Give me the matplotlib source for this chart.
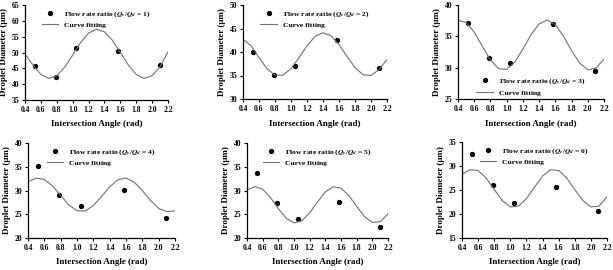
import numpy as np
import matplotlib
matplotlib.use('Agg')
import matplotlib.pyplot as plt

plt.rcParams['font.family'] = ['Liberation Serif', 'DejaVu Serif']
plt.rcParams['font.weight'] = 'bold'
plt.rcParams['mathtext.fontset'] = 'stix'

# angoli di intersezione misurati (rad)
angoli = [0.524, 0.785, 1.047, 1.571, 2.094]
# diametri misurati per ciascun rapporto di portata
d1 = [45.8, 42.3, 51.4, 50.5, 46.0]
d2 = [40.1, 35.1, 37.1, 42.6, 36.7]
d3 = [37.1, 31.5, 30.7, 36.9, 29.4]
d4 = [35.1, 29.1, 26.8, 30.1, 24.2]
d5 = [33.7, 27.4, 24.1, 27.5, 22.4]
d6 = [32.5, 26.1, 22.2, 25.7, 20.7]

# curva di fitting (passo 0.1 rad)
x_fit = [0.4, 0.5, 0.6, 0.7, 0.8, 0.9, 1.0, 1.1, 1.2, 1.3,
         1.4, 1.5, 1.6, 1.7, 1.8, 1.9, 2.0, 2.1, 2.2]
f1 = [49.4, 46.06, 43.06, 41.81, 42.65, 45.35, 49.19, 53.14, 56.14, 57.39,
      56.55, 53.85, 50.01, 46.06, 43.06, 41.81, 42.65, 45.5, 50.2]
f2 = [42.7, 41.33, 38.78, 36.46, 35.08, 35.08, 36.46, 38.78, 41.33, 43.30,
      44.10, 43.46, 41.59, 39.07, 36.68, 35.17, 35.01, 36.25, 38.40]
f3 = [37.56, 37.22, 35.67, 33.42, 31.24, 29.85, 29.71, 30.88, 32.95, 35.25,
      36.99, 37.60, 36.86, 35.04, 32.73, 30.71, 29.66, 29.93, 31.35]
f4 = [31.9, 32.59, 32.34, 30.97, 28.94, 26.97, 25.74, 25.68, 26.81, 28.73,
      30.78, 32.25, 32.63, 31.77, 29.99, 27.90, 26.22, 25.55, 25.7]
f5 = [30.10, 30.84, 30.27, 28.50, 26.18, 24.16, 23.18, 23.61, 25.28, 27.59,
      29.68, 30.78, 30.50, 28.93, 26.65, 24.50, 23.27, 23.41, 25.1]
f6 = [28.3, 29.23, 29.07, 27.49, 25.10, 22.80, 21.47, 21.63, 23.21, 25.60,
      27.90, 29.23, 29.07, 27.49, 25.10, 22.80, 21.47, 21.63, 23.6]

rapporti = [1, 2, 3, 4, 5, 6]
punti = [d1, d2, d3, d4, d5, d6]
curve = [f1, f2, f3, f4, f5, f6]
ylim = [(35, 65), (30, 50), (25, 40), (20, 40), (20, 40), (15, 35)]

# posizione dei pannelli in pixel: sinistra, destra, alto, basso
W, H = 613, 270
box = [(25, 168, 5, 100), (243, 387, 5, 99), (458, 604, 5, 99),
       (28, 175, 143, 238), (247, 388, 143, 238), (462, 607, 142, 238)]
legend_loc = ['upper center', 'upper center', 'lower center',
              'upper center', 'upper center', 'upper center']

fig = plt.figure(figsize=(W/100, H/100), dpi=100)

for i in range(6):
    l, r, t, b = box[i]
    ax = fig.add_axes([l/W, 1-b/H, (r-l)/W, (b-t)/H])
    ax.plot(angoli, punti[i], 'o', color='black', ms=2.8,
            label=r'Flow rate ratio ($Q_c$/$Q_d$ = %d)' % rapporti[i])
    ax.plot(x_fit, curve[i], '-', color='#707070', lw=0.8, label='Curve fitting')
    ax.set_xlim(0.4, 2.2)
    ax.set_ylim(*ylim[i])
    ax.set_xticks(np.arange(0.4, 2.21, 0.2))
    ax.set_yticks(np.arange(ylim[i][0], ylim[i][1]+0.1, 5))
    ax.xaxis.set_major_formatter(matplotlib.ticker.FormatStrFormatter('%.1f'))
    ax.spines['top'].set_visible(False)
    ax.spines['right'].set_visible(False)
    for s in ['left', 'bottom']:
        ax.spines[s].set_linewidth(0.9)
    ax.tick_params(labelsize=5.5, length=2.5, width=0.8, pad=1.5, direction='out')
    ax.set_xlabel('Intersection Angle (rad)', fontsize=6.5, fontweight='bold', labelpad=5)
    ax.set_ylabel('Droplet Diameter (μm)', fontsize=6.5, fontweight='bold', labelpad=3)
    pad = 0.05 if legend_loc[i] == 'lower center' else 0.15
    ax.legend(loc=legend_loc[i], frameon=False, fontsize=5.4, handlelength=2.2,
              borderaxespad=pad, labelspacing=0.4, handletextpad=0.8)

plt.savefig('out.png', dpi=100)
